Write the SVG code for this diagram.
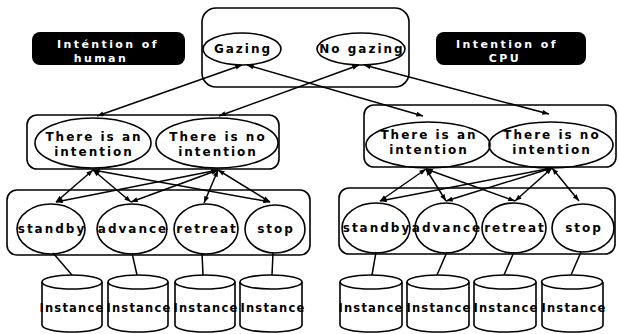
<svg xmlns="http://www.w3.org/2000/svg" width="619" height="334" viewBox="0 0 619 334">
  <style>
    .box { fill: none; stroke: #000; stroke-width: 1.6; }
    .node { fill: none; stroke: #000; stroke-width: 1.6; }
    .cyl { fill: none; stroke: #000; stroke-width: 1.6; }
    .edge { fill: none; stroke: #000; stroke-width: 1.5; }
    .t { font-family: "DejaVu Sans", "Liberation Sans", sans-serif; font-weight: bold; font-size: 12px; letter-spacing: 2px; text-anchor: middle; fill: #000; }
    .inst { font-family: "DejaVu Sans", "Liberation Sans", sans-serif; font-weight: bold; font-size: 11.5px; letter-spacing: 1.2px; text-anchor: middle; fill: #000; }
    .lbl { font-family: "DejaVu Sans", "Liberation Sans", sans-serif; font-weight: bold; font-size: 11px; letter-spacing: 2.4px; text-anchor: middle; fill: #fff; }
    .tag { fill: #000; }
  </style>
  <defs>
    <marker id="arr" viewBox="0 0 8 6" refX="8" refY="3" markerWidth="7" markerHeight="5" markerUnits="userSpaceOnUse" orient="auto-start-reverse">
      <path d="M0,0 L8,3 L0,6 z" fill="#000"/>
    </marker>
  </defs>

  <!-- side labels -->
  <g id="label-human">
    <rect class="tag" x="32" y="32" width="153" height="33" rx="8"/>
    <text class="lbl" x="108" y="48">Inténtion of</text>
    <text class="lbl" x="101" y="62">human</text>
  </g>
  <g id="label-cpu">
    <rect class="tag" x="436" y="32" width="150" height="33" rx="8"/>
    <text class="lbl" x="507" y="48">Intention of</text>
    <text class="lbl" x="505" y="62">CPU</text>
  </g>

  <!-- grouping frames -->
  <g id="frame-gaze"><rect class="box" x="202" y="8" width="207" height="79" rx="14"/></g>
  <g id="frame-human-intent"><rect class="box" x="27" y="115" width="252" height="54" rx="10"/></g>
  <g id="frame-cpu-intent"><rect class="box" x="364" y="105" width="252" height="62" rx="10"/></g>
  <g id="frame-human-action"><rect class="box" x="7" y="190" width="303" height="65" rx="10"/></g>
  <g id="frame-cpu-action"><rect class="box" x="339" y="188" width="276" height="66" rx="10"/></g>

  <!-- connectors -->
  <g id="connectors">
    <!-- gaze to intention -->
    <line class="edge" x1="242" y1="65" x2="97" y2="116" marker-start="url(#arr)" marker-end="url(#arr)"/>
    <line class="edge" x1="247" y1="65" x2="423" y2="116" marker-start="url(#arr)" marker-end="url(#arr)"/>
    <line class="edge" x1="359" y1="65" x2="219" y2="116" marker-start="url(#arr)" marker-end="url(#arr)"/>
    <line class="edge" x1="364" y1="65" x2="549" y2="114" marker-start="url(#arr)" marker-end="url(#arr)"/>
    <!-- human intention to actions -->
    <line class="edge" x1="93" y1="170" x2="56" y2="202" marker-start="url(#arr)" marker-end="url(#arr)"/>
    <line class="edge" x1="93" y1="170" x2="131" y2="202" marker-start="url(#arr)" marker-end="url(#arr)"/>
    <line class="edge" x1="93" y1="170" x2="270" y2="202" marker-start="url(#arr)" marker-end="url(#arr)"/>
    <line class="edge" x1="218" y1="170" x2="56" y2="202" marker-start="url(#arr)" marker-end="url(#arr)"/>
    <line class="edge" x1="218" y1="170" x2="131" y2="202" marker-start="url(#arr)" marker-end="url(#arr)"/>
    <line class="edge" x1="218" y1="170" x2="204" y2="203" marker-start="url(#arr)" marker-end="url(#arr)"/>
    <line class="edge" x1="218" y1="170" x2="270" y2="202" marker-start="url(#arr)" marker-end="url(#arr)"/>
    <!-- cpu intention to actions -->
    <line class="edge" x1="426" y1="169" x2="380" y2="201" marker-start="url(#arr)" marker-end="url(#arr)"/>
    <line class="edge" x1="426" y1="169" x2="446" y2="201" marker-start="url(#arr)" marker-end="url(#arr)"/>
    <line class="edge" x1="426" y1="169" x2="515" y2="201" marker-start="url(#arr)" marker-end="url(#arr)"/>
    <line class="edge" x1="552" y1="168" x2="380" y2="201" marker-start="url(#arr)" marker-end="url(#arr)"/>
    <line class="edge" x1="552" y1="168" x2="446" y2="201" marker-start="url(#arr)" marker-end="url(#arr)"/>
    <line class="edge" x1="552" y1="168" x2="515" y2="201" marker-start="url(#arr)" marker-end="url(#arr)"/>
    <line class="edge" x1="552" y1="168" x2="579" y2="201" marker-start="url(#arr)" marker-end="url(#arr)"/>
    <!-- actions to instance stores -->
    <line class="edge" x1="53" y1="253" x2="72" y2="275"/>
    <line class="edge" x1="132" y1="253" x2="137" y2="275"/>
    <line class="edge" x1="202" y1="253" x2="203" y2="275"/>
    <line class="edge" x1="273" y1="253" x2="272" y2="275"/>
    <line class="edge" x1="376" y1="252" x2="372" y2="275"/>
    <line class="edge" x1="447" y1="252" x2="437" y2="275"/>
    <line class="edge" x1="514" y1="252" x2="504" y2="275"/>
    <line class="edge" x1="581" y1="252" x2="571" y2="275"/>
  </g>

  <!-- gaze states -->
  <g id="gazing"><ellipse class="node" cx="242" cy="49" rx="39" ry="16"/><text class="t" x="243" y="53">Gazing</text></g>
  <g id="no-gazing"><ellipse class="node" cx="361" cy="49" rx="44" ry="16"/><text class="t" x="362" y="53">No gazing</text></g>

  <!-- human intention -->
  <g id="h-intent-yes"><ellipse class="node" cx="93" cy="143" rx="58" ry="25"/><text class="t" x="94" y="141">There is an</text><text class="t" x="94" y="156">intention</text></g>
  <g id="h-intent-no"><ellipse class="node" cx="217" cy="143" rx="61" ry="25"/><text class="t" x="218" y="141">There is no</text><text class="t" x="218" y="156">intention</text></g>

  <!-- cpu intention -->
  <g id="c-intent-yes"><ellipse class="node" cx="428" cy="145" rx="62" ry="23"/><text class="t" x="429" y="139">There is an</text><text class="t" x="429" y="154">intention</text></g>
  <g id="c-intent-no"><ellipse class="node" cx="551" cy="145" rx="62" ry="23"/><text class="t" x="552" y="139">There is no</text><text class="t" x="552" y="154">intention</text></g>

  <!-- human actions -->
  <g id="h-standby"><ellipse class="node" cx="51" cy="229" rx="34" ry="25"/><text class="t" x="52" y="233">standby</text></g>
  <g id="h-advance"><ellipse class="node" cx="132" cy="229" rx="35" ry="25"/><text class="t" x="133" y="233">advance</text></g>
  <g id="h-retreat"><ellipse class="node" cx="206" cy="229" rx="32" ry="25"/><text class="t" x="207" y="233">retreat</text></g>
  <g id="h-stop"><ellipse class="node" cx="275" cy="229" rx="30" ry="24"/><text class="t" x="276" y="233">stop</text></g>

  <!-- cpu actions -->
  <g id="c-standby"><ellipse class="node" cx="376" cy="228" rx="34" ry="25"/><text class="t" x="377" y="232">standby</text></g>
  <g id="c-advance"><ellipse class="node" cx="446" cy="228" rx="31" ry="25"/><text class="t" x="447" y="232">advance</text></g>
  <g id="c-retreat"><ellipse class="node" cx="514" cy="228" rx="32" ry="25"/><text class="t" x="515" y="232">retreat</text></g>
  <g id="c-stop"><ellipse class="node" cx="583" cy="228" rx="31" ry="24"/><text class="t" x="584" y="232">stop</text></g>

  <!-- instance stores -->
  <g id="h-inst-1"><path class="cyl" d="M42,282 L42,325 A30,7 0 0 0 102,325 L102,282"/><ellipse class="cyl" cx="72" cy="282" rx="30" ry="7"/><text class="inst" x="72" y="312">Instance</text></g>
  <g id="h-inst-2"><path class="cyl" d="M108,282 L108,325 A30,7 0 0 0 168,325 L168,282"/><ellipse class="cyl" cx="138" cy="282" rx="30" ry="7"/><text class="inst" x="139" y="312">Instance</text></g>
  <g id="h-inst-3"><path class="cyl" d="M175,282 L175,325 A30,7 0 0 0 235,325 L235,282"/><ellipse class="cyl" cx="205" cy="282" rx="30" ry="7"/><text class="inst" x="206" y="312">Instance</text></g>
  <g id="h-inst-4"><path class="cyl" d="M240,282 L240,325 A31,7 0 0 0 302,325 L302,282"/><ellipse class="cyl" cx="271" cy="282" rx="31" ry="7"/><text class="inst" x="273" y="312">Instance</text></g>
  <g id="c-inst-1"><path class="cyl" d="M340,282 L340,325 A31,7 0 0 0 402,325 L402,282"/><ellipse class="cyl" cx="371" cy="282" rx="31" ry="7"/><text class="inst" x="371" y="312">Instance</text></g>
  <g id="c-inst-2"><path class="cyl" d="M407,282 L407,325 A31,7 0 0 0 469,325 L469,282"/><ellipse class="cyl" cx="438" cy="282" rx="31" ry="7"/><text class="inst" x="439" y="312">Instance</text></g>
  <g id="c-inst-3"><path class="cyl" d="M474,282 L474,325 A31,7 0 0 0 536,325 L536,282"/><ellipse class="cyl" cx="505" cy="282" rx="31" ry="7"/><text class="inst" x="506" y="312">Instance</text></g>
  <g id="c-inst-4"><path class="cyl" d="M542,282 L542,325 A30.5,7 0 0 0 603,325 L603,282"/><ellipse class="cyl" cx="572" cy="282" rx="30.5" ry="7"/><text class="inst" x="574" y="312">Instance</text></g>
</svg>
